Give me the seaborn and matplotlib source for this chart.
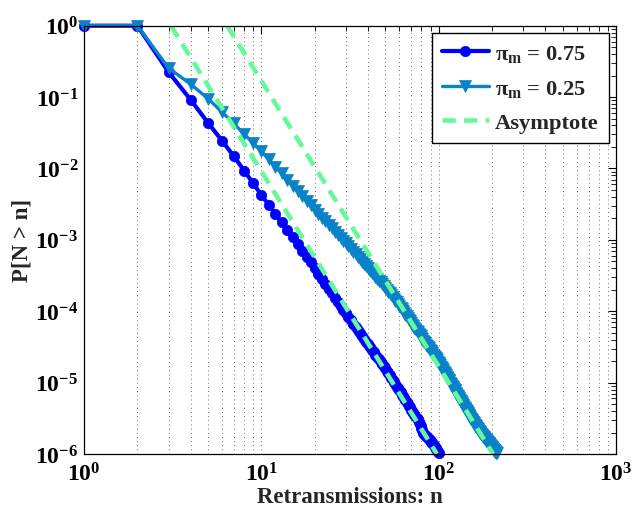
import numpy as np
import pandas as pd
import matplotlib
matplotlib.use("Agg")
import matplotlib.pyplot as plt
import seaborn as sns
from matplotlib.ticker import LogLocator, FuncFormatter, NullFormatter

# ---------------- data ----------------
# pi_m = 0.75 : n = 1..100, log10 P[N > n]
n_075 = list(range(1, 101))
log10_p_075 = [
    0, 0, -0.65, -1.04, -1.36, -1.61, -1.83, -2.03, -2.21, -2.37,
    -2.510, -2.638, -2.756, -2.865, -2.967, -3.062, -3.151, -3.235, -3.315, -3.400,
    -3.476, -3.548, -3.617, -3.684, -3.747, -3.808, -3.867, -3.923, -3.978, -4.030,
    -4.080, -4.127, -4.174, -4.219, -4.262, -4.305, -4.346, -4.386, -4.426, -4.464,
    -4.501, -4.537, -4.573, -4.607, -4.641, -4.674, -4.707, -4.738, -4.769, -4.800,
    -4.834, -4.867, -4.899, -4.931, -4.962, -4.993, -5.023, -5.060, -5.082, -5.110,
    -5.138, -5.175, -5.193, -5.220, -5.247, -5.265, -5.298, -5.323, -5.348, -5.380,
    -5.397, -5.421, -5.444, -5.467, -5.490, -5.513, -5.550, -5.580, -5.610, -5.640,
    -5.670, -5.700, -5.720, -5.735, -5.750, -5.762, -5.775, -5.787, -5.800, -5.815,
    -5.830, -5.845, -5.860, -5.878, -5.895, -5.912, -5.930, -5.948, -5.966, -5.985,
]

# pi_m = 0.25 : n = 1..212, log10 P[N > n]
n_025 = list(range(1, 213))
log10_p_025 = [
    0, 0, -0.594, -0.82, -1.02, -1.21, -1.37, -1.52, -1.645, -1.76,
    -1.873, -1.975, -2.070, -2.157, -2.239, -2.315, -2.387, -2.454, -2.518, -2.580,
    -2.637, -2.691, -2.742, -2.792, -2.839, -2.884, -2.928, -2.970, -3.011, -3.050,
    -3.090, -3.128, -3.166, -3.202, -3.238, -3.272, -3.305, -3.338, -3.369, -3.400,
    -3.430, -3.459, -3.488, -3.516, -3.543, -3.570, -3.596, -3.621, -3.647, -3.670,
    -3.698, -3.724, -3.751, -3.777, -3.803, -3.827, -3.852, -3.876, -3.900, -3.923,
    -3.949, -3.974, -3.999, -4.024, -4.048, -4.072, -4.095, -4.119, -4.141, -4.164,
    -4.186, -4.208, -4.229, -4.251, -4.272, -4.292, -4.313, -4.333, -4.353, -4.373,
    -4.392, -4.411, -4.430, -4.449, -4.467, -4.486, -4.504, -4.522, -4.539, -4.557,
    -4.574, -4.591, -4.608, -4.625, -4.641, -4.658, -4.674, -4.690, -4.706, -4.721,
    -4.739, -4.757, -4.776, -4.794, -4.812, -4.830, -4.847, -4.864, -4.882, -4.899,
    -4.916, -4.933, -4.949, -4.966, -4.982, -4.999, -5.015, -5.031, -5.046, -5.062,
    -5.078, -5.093, -5.108, -5.124, -5.139, -5.154, -5.168, -5.183, -5.198, -5.212,
    -5.227, -5.241, -5.255, -5.269, -5.283, -5.297, -5.311, -5.324, -5.338, -5.351,
    -5.365, -5.378, -5.391, -5.404, -5.417, -5.430, -5.443, -5.456, -5.468, -5.481,
    -5.492, -5.503, -5.515, -5.526, -5.537, -5.547, -5.558, -5.569, -5.580, -5.590,
    -5.601, -5.611, -5.622, -5.632, -5.642, -5.653, -5.663, -5.673, -5.683, -5.693,
    -5.701, -5.709, -5.717, -5.724, -5.732, -5.740, -5.747, -5.755, -5.762, -5.770,
    -5.777, -5.785, -5.792, -5.800, -5.807, -5.814, -5.821, -5.829, -5.836, -5.843,
    -5.850, -5.857, -5.864, -5.871, -5.878, -5.885, -5.892, -5.898, -5.905, -5.912,
    -5.919, -5.925, -5.932, -5.939, -5.945, -5.952, -5.958, -5.965, -5.971, -5.978,
    -5.984, -5.990,
]

# Asymptotes (straight lines on log-log): end points (n, P)
asym1_n = [3.09, 97.7]
asym1_p = [1.0, 1e-6]
asym2_n = [6.41, 202.7]
asym2_p = [1.0, 1e-6]

labels = [r"$\mathrm{\pi}_{\mathrm{m}}$ = 0.75", r"$\mathrm{\pi}_{\mathrm{m}}$ = 0.25", "Asymptote"]
x_label = "Retransmissions: n"
y_label = "P[N > n]"

# ---------------- style ----------------
sns.set_style("white")
plt.rcParams["font.family"] = ["Liberation Serif", "DejaVu Serif"]
plt.rcParams["font.weight"] = "bold"
plt.rcParams["axes.labelweight"] = "bold"
plt.rcParams["mathtext.fontset"] = "custom"
plt.rcParams["mathtext.rm"] = "Liberation Serif:bold"
plt.rcParams["mathtext.bf"] = "Liberation Serif:bold"
plt.rcParams["mathtext.it"] = "Liberation Serif:italic:bold"
plt.rcParams["mathtext.default"] = "rm"

C_BLUE = "#0000FF"
C_LBLUE = "#0A82C8"
C_GREEN = "#66F99A"

df075 = pd.DataFrame({"n": n_075, "p": np.power(10.0, log10_p_075)})
df025 = pd.DataFrame({"n": n_025, "p": np.power(10.0, log10_p_025)})

fig = plt.figure(figsize=(6.35, 5.10), dpi=100)
ax = fig.add_axes([84 / 635, 1 - 455 / 510, (616 - 84) / 635, (455 - 26.7) / 510])

sns.lineplot(data=df075, x="n", y="p", ax=ax, color=C_BLUE, lw=3.0,
             marker="o", markersize=7.5, markeredgecolor=C_BLUE, markeredgewidth=0.5,
             estimator=None, sort=False, label=labels[0], zorder=2, clip_on=False)
sns.lineplot(data=df025, x="n", y="p", ax=ax, color=C_LBLUE, lw=2.4,
             marker="v", markersize=8.5, markeredgecolor=C_LBLUE, markeredgewidth=0.5,
             estimator=None, sort=False, label=labels[1], zorder=3, clip_on=False)
sns.lineplot(x=asym1_n, y=asym1_p, ax=ax, color=C_GREEN, lw=3.3,
             linestyle=(0, (2.9, 1.8)), estimator=None, sort=False,
             label=labels[2], zorder=4)
sns.lineplot(x=asym2_n, y=asym2_p, ax=ax, color=C_GREEN, lw=3.3,
             linestyle=(0, (2.9, 1.8)), estimator=None, sort=False, zorder=4)

ax.set_xscale("log")
ax.set_yscale("log")
ax.set_xlim(1, 1000)
ax.set_ylim(1e-6, 1)

ax.xaxis.set_major_locator(LogLocator(base=10, numticks=10))
ax.xaxis.set_minor_locator(LogLocator(base=10, subs=np.arange(2, 10), numticks=20))
ax.yaxis.set_major_locator(LogLocator(base=10, numticks=10))
ax.yaxis.set_minor_locator(LogLocator(base=10, subs=np.arange(2, 10), numticks=20))
fmt = FuncFormatter(lambda v, _: r"$\mathrm{10^{%d}}$" % int(round(np.log10(v))))
ax.xaxis.set_major_formatter(fmt)
ax.yaxis.set_major_formatter(fmt)
ax.xaxis.set_minor_formatter(NullFormatter())
ax.yaxis.set_minor_formatter(NullFormatter())

ax.tick_params(which="both", direction="in", top=True, right=True, colors="black",
               labelsize=17)
ax.tick_params(which="major", length=6, width=0.8)
ax.tick_params(which="minor", length=3.5, width=0.6)
ax.tick_params(axis="x", pad=6)
ax.tick_params(axis="y", pad=4)

ax.grid(False)
ax.xaxis.grid(True, which="both", linestyle=(0, (1, 4)), color="#444444", lw=0.6)

for s in ax.spines.values():
    s.set_visible(True)
    s.set_color("black")
    s.set_linewidth(0.9)
    s.set_zorder(5)

ax.set_xlabel(x_label, fontsize=16.5, fontweight="bold", labelpad=0)
ax.set_ylabel(y_label, fontsize=16.5, fontweight="bold", labelpad=2)

leg = ax.legend(loc="upper right", bbox_to_anchor=(0.986, 0.984), fontsize=16.2,
                frameon=True, fancybox=False, edgecolor="black", framealpha=1,
                handlelength=2.1, handletextpad=0.25, borderpad=0.45,
                labelspacing=0.62, borderaxespad=0)
leg.get_frame().set_linewidth(1.0)
leg.set_zorder(6)

fig.savefig("out.png", dpi=100)
